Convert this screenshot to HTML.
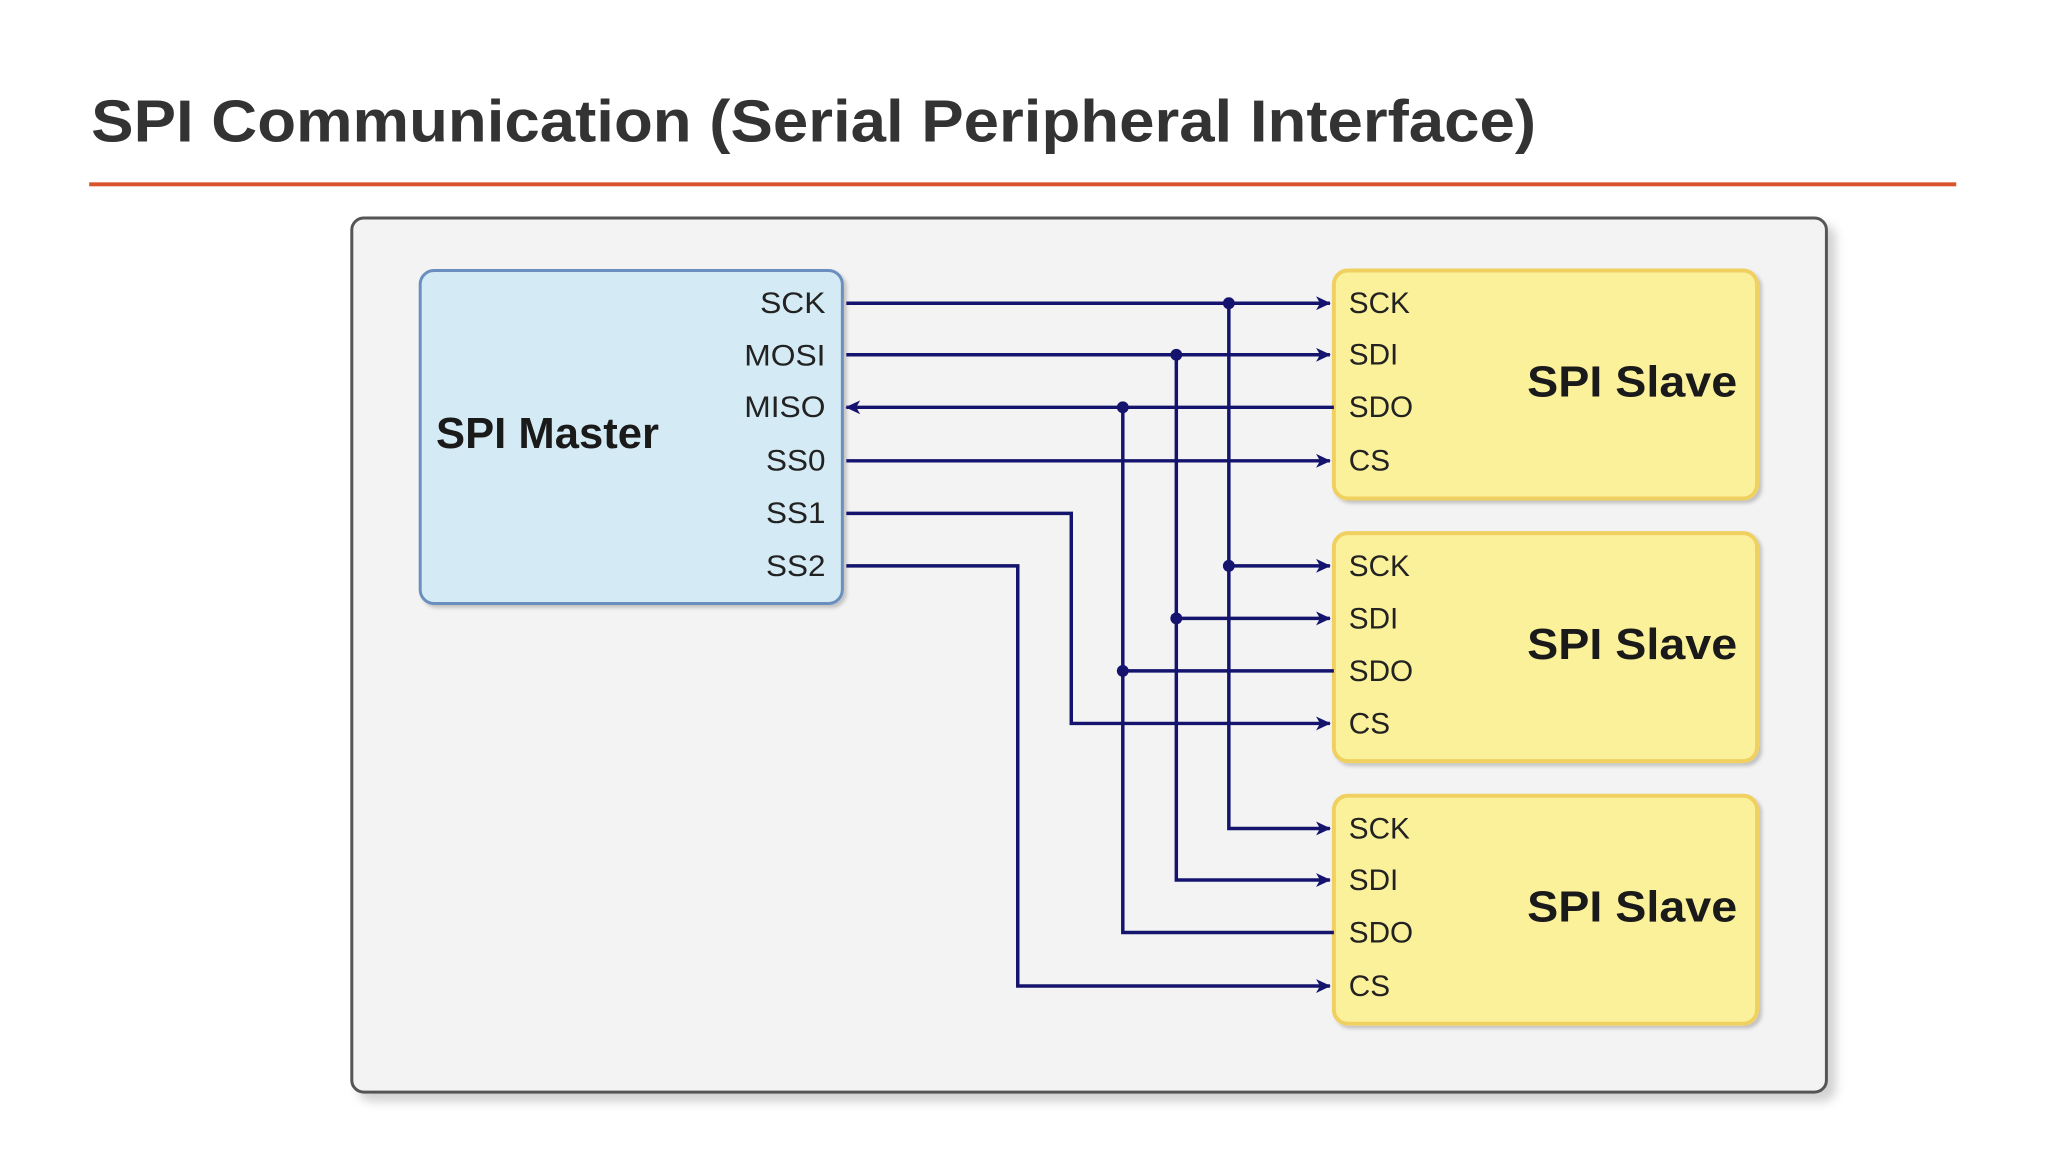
<!DOCTYPE html>
<html><head><meta charset="utf-8"><style>
html,body{margin:0;padding:0;background:#fff;}
svg{display:block;}
</style></head><body>
<svg width="2048" height="1152" viewBox="0 0 2048 1152" xmlns="http://www.w3.org/2000/svg" font-family="Liberation Sans, Arial, sans-serif">
<defs>
<marker id="ar" markerWidth="16" markerHeight="16" refX="14" refY="8" orient="auto" markerUnits="userSpaceOnUse">
<path d="M0,1 L15,8 L0,15 L4,8 Z" fill="#14146e"/></marker>
<filter id="sh" x="-5%" y="-5%" width="110%" height="110%"><feDropShadow dx="8" dy="8" stdDeviation="5" flood-color="#000" flood-opacity="0.18"/></filter>
<filter id="sh2" x="-5%" y="-5%" width="110%" height="110%"><feDropShadow dx="3" dy="3" stdDeviation="2" flood-color="#000" flood-opacity="0.2"/></filter>
</defs>
<g transform="scale(0.991)">
<text x="92" y="143" font-size="60" font-weight="bold" fill="#333" textLength="1458" lengthAdjust="spacingAndGlyphs">SPI Communication (Serial Peripheral Interface)</text>
<rect x="90" y="184" width="1884" height="4" fill="#d9532b"/>
<rect x="355" y="220" width="1488" height="882" rx="12" fill="#f3f3f3" stroke="#555" stroke-width="3" filter="url(#sh)"/>
<rect x="424" y="273" width="426" height="336" rx="14" fill="#d4eaf4" stroke="#6a8fbf" stroke-width="3" filter="url(#sh2)"/>
<text x="440" y="452" font-size="44" font-weight="bold" fill="#1a1a1a">SPI Master</text>
<g font-size="30" fill="#222" text-anchor="end">
<text x="833" y="316" textLength="66" lengthAdjust="spacingAndGlyphs">SCK</text><text x="833" y="369" textLength="82" lengthAdjust="spacingAndGlyphs">MOSI</text><text x="833" y="421" textLength="82" lengthAdjust="spacingAndGlyphs">MISO</text>
<text x="833" y="475" textLength="60" lengthAdjust="spacingAndGlyphs">SS0</text><text x="833" y="528" textLength="60" lengthAdjust="spacingAndGlyphs">SS1</text><text x="833" y="581" textLength="60" lengthAdjust="spacingAndGlyphs">SS2</text>
</g>
<g fill="#fbf19a" stroke="#f0d060" stroke-width="4" filter="url(#sh2)">
<rect x="1346" y="273" width="427" height="230" rx="14"/>
<rect x="1346" y="538" width="427" height="230" rx="14"/>
<rect x="1346" y="803" width="427" height="230" rx="14"/>
</g>
<g font-size="44" font-weight="bold" fill="#1a1a1a" text-anchor="end">
<text x="1753" y="400" textLength="212" lengthAdjust="spacingAndGlyphs">SPI Slave</text><text x="1753" y="665" textLength="212" lengthAdjust="spacingAndGlyphs">SPI Slave</text><text x="1753" y="930" textLength="212" lengthAdjust="spacingAndGlyphs">SPI Slave</text>
</g>
<g font-size="30" fill="#222">
<text x="1361" y="316">SCK</text><text x="1361" y="368">SDI</text><text x="1361" y="421">SDO</text><text x="1361" y="475">CS</text>
<text x="1361" y="581">SCK</text><text x="1361" y="634">SDI</text><text x="1361" y="687">SDO</text><text x="1361" y="740">CS</text>
<text x="1361" y="846">SCK</text><text x="1361" y="898">SDI</text><text x="1361" y="951">SDO</text><text x="1361" y="1005">CS</text>
</g>
<g stroke="#14146e" stroke-width="3.5" fill="none">
<path d="M854,306 H1342" marker-end="url(#ar)"/>
<path d="M854,358 H1342" marker-end="url(#ar)"/>
<path d="M1346,411 H854" marker-end="url(#ar)"/>
<path d="M854,465 H1342" marker-end="url(#ar)"/>
<path d="M854,518 H1081 V730 H1342" marker-end="url(#ar)"/>
<path d="M854,571 H1027 V995 H1342" marker-end="url(#ar)"/>
<path d="M1240,306 V836 H1342" marker-end="url(#ar)"/>
<path d="M1240,571 H1342" marker-end="url(#ar)"/>
<path d="M1187,358 V888 H1342" marker-end="url(#ar)"/>
<path d="M1187,624 H1342" marker-end="url(#ar)"/>
<path d="M1133,411 V941 H1346"/>
<path d="M1133,677 H1346"/>
</g>
<g fill="#14146e">
<circle cx="1240" cy="306" r="6"/><circle cx="1240" cy="571" r="6"/>
<circle cx="1187" cy="358" r="6"/><circle cx="1187" cy="624" r="6"/>
<circle cx="1133" cy="411" r="6"/><circle cx="1133" cy="677" r="6"/>
</g>
</g>
</svg>
</body></html>
